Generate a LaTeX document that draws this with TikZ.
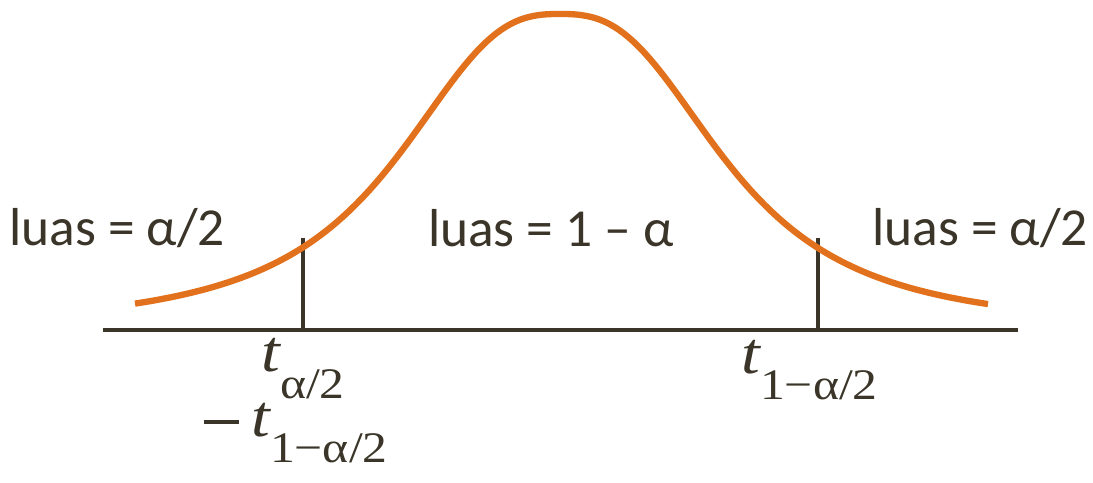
\documentclass[tikz,border=0pt]{standalone}
\usepackage{fontspec}
\setmainfont{Carlito}
\newfontfamily\tfont{Liberation Serif}
\usetikzlibrary{positioning,calc}
\definecolor{curveorange}{HTML}{E2711D}
\definecolor{axisdark}{HTML}{3A3528}
\newcommand{\tsub}[1]{{\itshape t}{\fontsize{31}{33}\selectfont\raisebox{-0.6em}{#1}}}
\newcommand{\tlabel}[1]{\scalebox{1.14}[1]{\tfont\fontsize{42}{46}\selectfont #1}}
\newcommand{\bigminus}{\rule[0.22em]{0.52em}{0.065em}}

\begin{document}
\begin{tikzpicture}[x=0.025cm, y=0.025cm, every node/.style={font=\fontsize{38}{44}\selectfont, text=axisdark, inner sep=0pt}]
    \useasboundingbox (0,0) rectangle (1093,482);
    % axis and the two cut-offs
    \coordinate (ax0) at (103,152);
    \coordinate (ax1) at (1018,152);
    \coordinate (lo) at (303,152);
    \coordinate (hi) at (818,152);
    \coordinate (lotop) at (303,244);
    \coordinate (hitop) at (818,244);
    \draw[axisdark, line width=3.1pt] (ax0) -- (ax1);
    \draw[axisdark, line width=2.5pt] (lo) -- (lotop);
    \draw[axisdark, line width=2.5pt] (hi) -- (hitop);
    % density
    \draw[curveorange, line width=4.5pt] plot[domain=-425:428, samples=170, smooth]
        ({560+\x}, {152+316/(1+((abs(\x)+0.01)/175)^2.7)});
    % areas
    \node (aleft) at (117,254) {luas = α/2};
    \node (amid) at (551,254) {luas = 1 – α};
    \node (aright) at (980,254) {luas = α/2};
    % quantiles
    \node (tlo) [below=6pt of lo, anchor=north] {\tlabel{\tsub{α/2}}};
    \node (thi) [below=7pt of hi, anchor=north, xshift=-6pt] {\tlabel{\tsub{1−α/2}}};
    \node (tneg) [below=3pt of tlo, xshift=-5pt] {\tlabel{\bigminus\kern0.18em\tsub{1−α/2}}};
  \end{tikzpicture}
\end{document}
